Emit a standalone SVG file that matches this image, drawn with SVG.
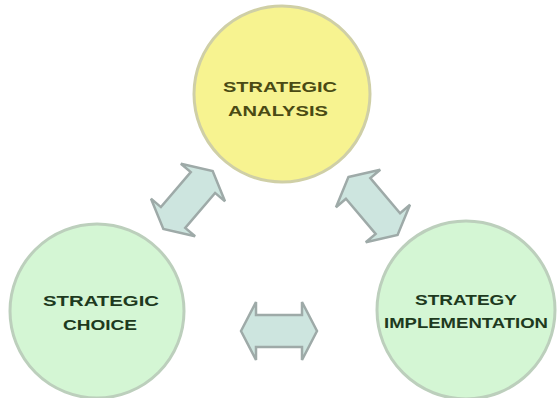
<svg xmlns="http://www.w3.org/2000/svg" width="557" height="398" viewBox="0 0 557 398">
<style>
.bg{fill:#ffffff}
.yel{fill:#f7f390;stroke:#cfcfa6;stroke-width:3}
.grn{fill:#d4f6d4;stroke:#bccfbc;stroke-width:3}
.t{font-family:"Liberation Sans",Arial,sans-serif;font-weight:bold;font-size:15px;text-anchor:middle}
.ty{fill:#4a4a14}
.tg{fill:#1e3a1e}
.arr{fill:#cde5df;stroke:#9eaaa8;stroke-width:2.5;stroke-linejoin:miter}
</style>
<defs>
<path id="dbl" d="M -38 0 L -23 -29 L -23 -16 L 23 -16 L 23 -29 L 38 0 L 23 29 L 23 16 L -23 16 L -23 29 Z"/>
</defs>
<rect class="bg" x="0" y="0" width="557" height="398"/>
<g id="connectors">
<use href="#dbl" class="arr" transform="translate(188,200) rotate(-49.5)"/>
<use href="#dbl" class="arr" transform="translate(373,206) rotate(49.7)"/>
<use href="#dbl" class="arr" transform="translate(279,331)"/>
</g>
<g id="analysis">
<circle class="yel" cx="282" cy="94" r="88"/>
<text class="t ty" x="280" y="92" textLength="114" lengthAdjust="spacingAndGlyphs">STRATEGIC</text>
<text class="t ty" x="278" y="116" textLength="100" lengthAdjust="spacingAndGlyphs">ANALYSIS</text>
</g>
<g id="choice">
<circle class="grn" cx="97" cy="311" r="87"/>
<text class="t tg" x="101" y="306" textLength="116" lengthAdjust="spacingAndGlyphs">STRATEGIC</text>
<text class="t tg" x="100" y="330" textLength="74" lengthAdjust="spacingAndGlyphs">CHOICE</text>
</g>
<g id="implementation">
<circle class="grn" cx="466" cy="310" r="89"/>
<text class="t tg" x="466" y="305" textLength="102" lengthAdjust="spacingAndGlyphs">STRATEGY</text>
<text class="t tg" x="466" y="328" textLength="164" lengthAdjust="spacingAndGlyphs">IMPLEMENTATION</text>
</g>
</svg>
